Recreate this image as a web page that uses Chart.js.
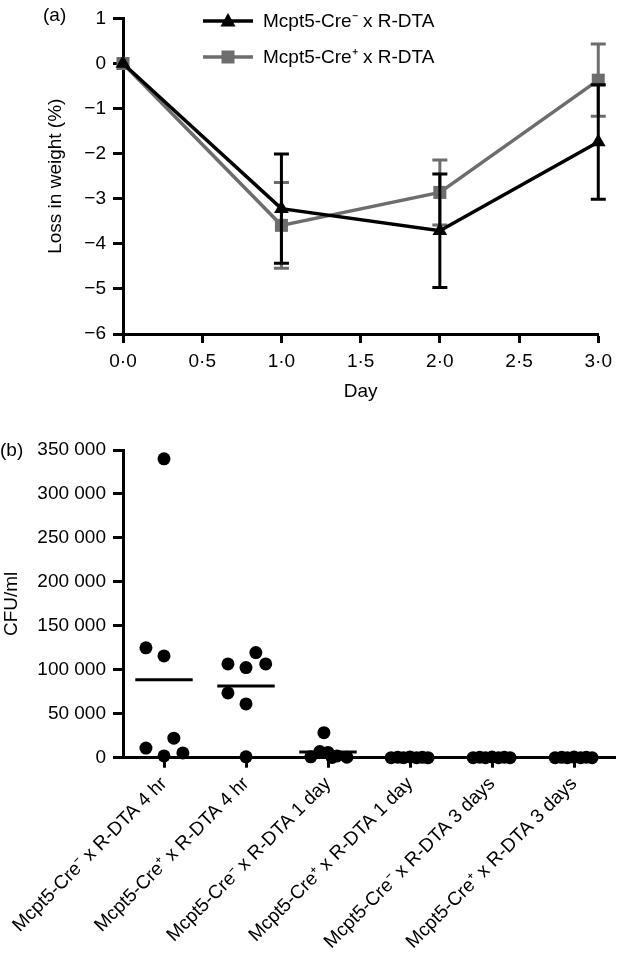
<!DOCTYPE html>
<html><head><meta charset="utf-8">
<script src="https://cdn.jsdelivr.net/npm/chart.js@4.4.1/dist/chart.umd.min.js"></script>
<style>
html,body{margin:0;padding:0;background:#fff;width:619px;height:959px;overflow:hidden;}
#c1{position:absolute;left:0;top:0;}
#c2{position:absolute;left:0;top:400px;}
.lab{position:absolute;font:19px "Liberation Sans";color:#000;}
</style></head><body>
<canvas id="c1" width="619" height="420"></canvas>
<canvas id="c2" width="619" height="559"></canvas>
<div class="lab" style="left:43px;top:4px">(a)</div>
<div class="lab" style="left:0px;top:439px">(b)</div>
<script>
// ---- Panel (a): weight loss ----
const days = [0, 1, 2, 3];
const seriesNames = ['Mcpt5-Cre\u207B x R-DTA', 'Mcpt5-Cre\u207A x R-DTA'];
const creNegLoss = [0, -3.22, -3.71, -1.74];
const creNegErr  = [0, 1.21, 1.26, 1.27];
const crePosLoss = [0, -3.59, -2.86, -0.37];
const crePosErr  = [0, 0.95, 0.72, 0.80];

// ---- Panel (b): CFU/ml ----
const groups = [
  'Mcpt5-Cre\u207B x R-DTA 4 hr',
  'Mcpt5-Cre\u207A x R-DTA 4 hr',
  'Mcpt5-Cre\u207B x R-DTA 1 day',
  'Mcpt5-Cre\u207A x R-DTA 1 day',
  'Mcpt5-Cre\u207B x R-DTA 3 days',
  'Mcpt5-Cre\u207A x R-DTA 3 days'
];
const cfu4hNeg = [340000, 125000, 115800, 22200, 11000, 2000, 5400];
const cfu4hPos = [106700, 102500, 119600, 106700, 73700, 61200, 1000];
const cfu1dNeg = [28500, 7000, 6000, 2000, 1000, 500, 300];
const cfu1dPos = [0, 600, 0, 900, 0, 400, 0];
const cfu3dNeg = [0, 500, 0, 800, 0, 500, 0];
const cfu3dPos = [0, 400, 0, 700, 0, 500, 0];
const cfuGroups = [cfu4hNeg, cfu4hPos, cfu1dNeg, cfu1dPos, cfu3dNeg, cfu3dPos];
// horizontal scatter slots (fraction of a column), layout only
const jitterSlots = [
  [0, -0.22, 0, 0.12, -0.22, 0, 0.23],
  [-0.22, 0, 0.12, 0.24, -0.22, 0, 0],
  [-0.05, -0.1, 0, 0.11, -0.21, 0.23, 0.05],
  [-0.23, -0.15, -0.08, 0, 0.08, 0.15, 0.22],
  [-0.23, -0.15, -0.08, 0, 0.08, 0.15, 0.22],
  [-0.23, -0.15, -0.08, 0, 0.08, 0.15, 0.22]
];

const FONT = {family: 'Liberation Sans', size: 19};
const GRAY = '#6d6d6d';
const minus = v => (v < 0 ? '\u2212' + Math.abs(v) : String(v));

const errorBarPlugin = {
  id: 'errorBars',
  afterDatasetDraw(chart, args) {
    const ds = chart.data.datasets[args.index];
    if (!ds.errors) return;
    const {ctx} = chart, x = chart.scales.x, y = chart.scales.y;
    ctx.save();
    ctx.strokeStyle = ds.borderColor; ctx.lineWidth = 3; ctx.lineCap = 'butt';
    ds.data.forEach((p, i) => {
      const e = ds.errors[i]; if (!e) return;
      const px = x.getPixelForValue(p.x);
      const t = y.getPixelForValue(p.y + e), b = y.getPixelForValue(p.y - e);
      ctx.beginPath();
      ctx.moveTo(px, t); ctx.lineTo(px, b);
      ctx.moveTo(px - 7.5, t); ctx.lineTo(px + 7.5, t);
      ctx.moveTo(px - 7.5, b); ctx.lineTo(px + 7.5, b);
      ctx.stroke();
    });
    ctx.restore();
  }
};

const legendPlugin = {
  id: 'innerLegend',
  afterDraw(chart) {
    const {ctx} = chart;
    const rows = [21, 57];
    chart.data.datasets.forEach((ds, i) => {
      const y = rows[i];
      ctx.save();
      ctx.strokeStyle = ds.borderColor; ctx.fillStyle = ds.borderColor; ctx.lineWidth = 3.5;
      ctx.beginPath(); ctx.moveTo(203, y); ctx.lineTo(253, y); ctx.stroke();
      ctx.beginPath();
      if (ds.pointStyle === 'triangle') {
        ctx.moveTo(228, y - 8); ctx.lineTo(235.5, y + 5.5); ctx.lineTo(220.5, y + 5.5); ctx.closePath();
      } else {
        ctx.rect(221.5, y - 6.5, 13, 13);
      }
      ctx.fill();
      ctx.font = '19px "Liberation Sans"'; ctx.fillStyle = '#000'; ctx.textBaseline = 'middle'; ctx.textAlign = 'left';
      ctx.fillText(ds.label, 263, y + 1);
      ctx.restore();
    });
  }
};

new Chart(document.getElementById('c1'), {
  type: 'line',
  data: {
    datasets: [
      {label: seriesNames[0], data: days.map((d, i) => ({x: d, y: creNegLoss[i]})), errors: creNegErr,
       borderColor: '#000', backgroundColor: '#000', borderWidth: 3.5, pointStyle: 'triangle',
       pointRadius: 8.5, pointBorderWidth: 0, pointBackgroundColor: '#000', tension: 0, clip: false},
      {label: seriesNames[1], data: days.map((d, i) => ({x: d, y: crePosLoss[i]})), errors: crePosErr,
       borderColor: GRAY, backgroundColor: GRAY, borderWidth: 3.5, pointStyle: 'rect',
       pointRadius: 9.2, pointBorderWidth: 0, pointBackgroundColor: GRAY, tension: 0, clip: false}
    ]
  },
  options: {
    responsive: false, animation: false, devicePixelRatio: 1,
    layout: {padding: {left: 0, right: 13, top: 12, bottom: 0}, autoPadding: false},
    plugins: {legend: {display: false}, tooltip: {enabled: false}},
    scales: {
      x: {
        type: 'linear', min: 0, max: 3,
        afterFit(s) { s.height = 86; },
        ticks: {stepSize: 0.5, padding: 7, color: '#000', font: FONT,
                callback: v => v.toFixed(1).replace('.', '\u00B7')},
        grid: {drawOnChartArea: false, drawTicks: true, tickLength: 9, tickWidth: 3, tickColor: '#000'},
        border: {display: true, color: '#000', width: 3},
        title: {display: true, text: 'Day', color: '#000', font: FONT, padding: {top: 0, bottom: 16.6}}
      },
      y: {
        min: -6, max: 1,
        afterFit(s) { s.width = 123; },
        ticks: {stepSize: 1, padding: 7, color: '#000', font: FONT, callback: v => minus(v)},
        grid: {drawOnChartArea: false, drawTicks: true, tickLength: 10, tickWidth: 3, tickColor: '#000'},
        border: {display: true, color: '#000', width: 3},
        title: {display: true, text: 'Loss in weight (%)', color: '#000', font: FONT, padding: {top: 44.6, bottom: 0}}
      }
    }
  },
  plugins: [errorBarPlugin, legendPlugin]
});

// ---- Panel (b) chart ----
const mean = arr => arr.reduce((a, b) => a + b, 0) / arr.length;
const pointSets = cfuGroups.map((vals, g) => ({
  type: 'scatter',
  data: vals.map((v, k) => ({x: g + jitterSlots[g][k], y: v})),
  pointRadius: 6.5, pointBackgroundColor: '#000', pointBorderWidth: 0, clip: false
}));
const meanSets = cfuGroups.map((vals, g) => ({
  type: 'line',
  data: [{x: g - 0.35, y: mean(vals)}, {x: g + 0.35, y: mean(vals)}],
  borderColor: '#000', borderWidth: 3, pointRadius: 0, clip: false
}));

new Chart(document.getElementById('c2'), {
  type: 'scatter',
  data: {datasets: [...meanSets, ...pointSets]},
  options: {
    responsive: false, animation: false, devicePixelRatio: 1,
    layout: {padding: {left: 0, right: 4, top: 50, bottom: 0}, autoPadding: false},
    plugins: {legend: {display: false}, tooltip: {enabled: false}},
    scales: {
      x: {
        type: 'linear', min: -0.5, max: 5.5,
        afterBuildTicks(s) { s.ticks = groups.map((g, i) => ({value: i})); },
        afterFit(s) { s.height = 201.3; },
        ticks: {autoSkip: false, minRotation: 45, maxRotation: 45, padding: 5, color: '#000', font: FONT,
                callback: v => groups[v]},
        grid: {drawOnChartArea: false, drawTicks: true, tickLength: 10, tickWidth: 3, tickColor: '#000'},
        border: {display: true, color: '#000', width: 3}
      },
      y: {
        min: 0, max: 350000,
        afterFit(s) { s.width = 123; },
        ticks: {stepSize: 50000, padding: 7, color: '#000', font: FONT,
                callback: v => String(v).replace(/\B(?=(\d{3})+(?!\d))/g, ' ')},
        grid: {drawOnChartArea: false, drawTicks: true, tickLength: 10, tickWidth: 3, tickColor: '#000'},
        border: {display: true, color: '#000', width: 3},
        title: {display: true, text: 'CFU/ml', color: '#000', font: FONT, padding: {top: 0, bottom: 0}}
      }
    }
  }
});
</script>
</body></html>
